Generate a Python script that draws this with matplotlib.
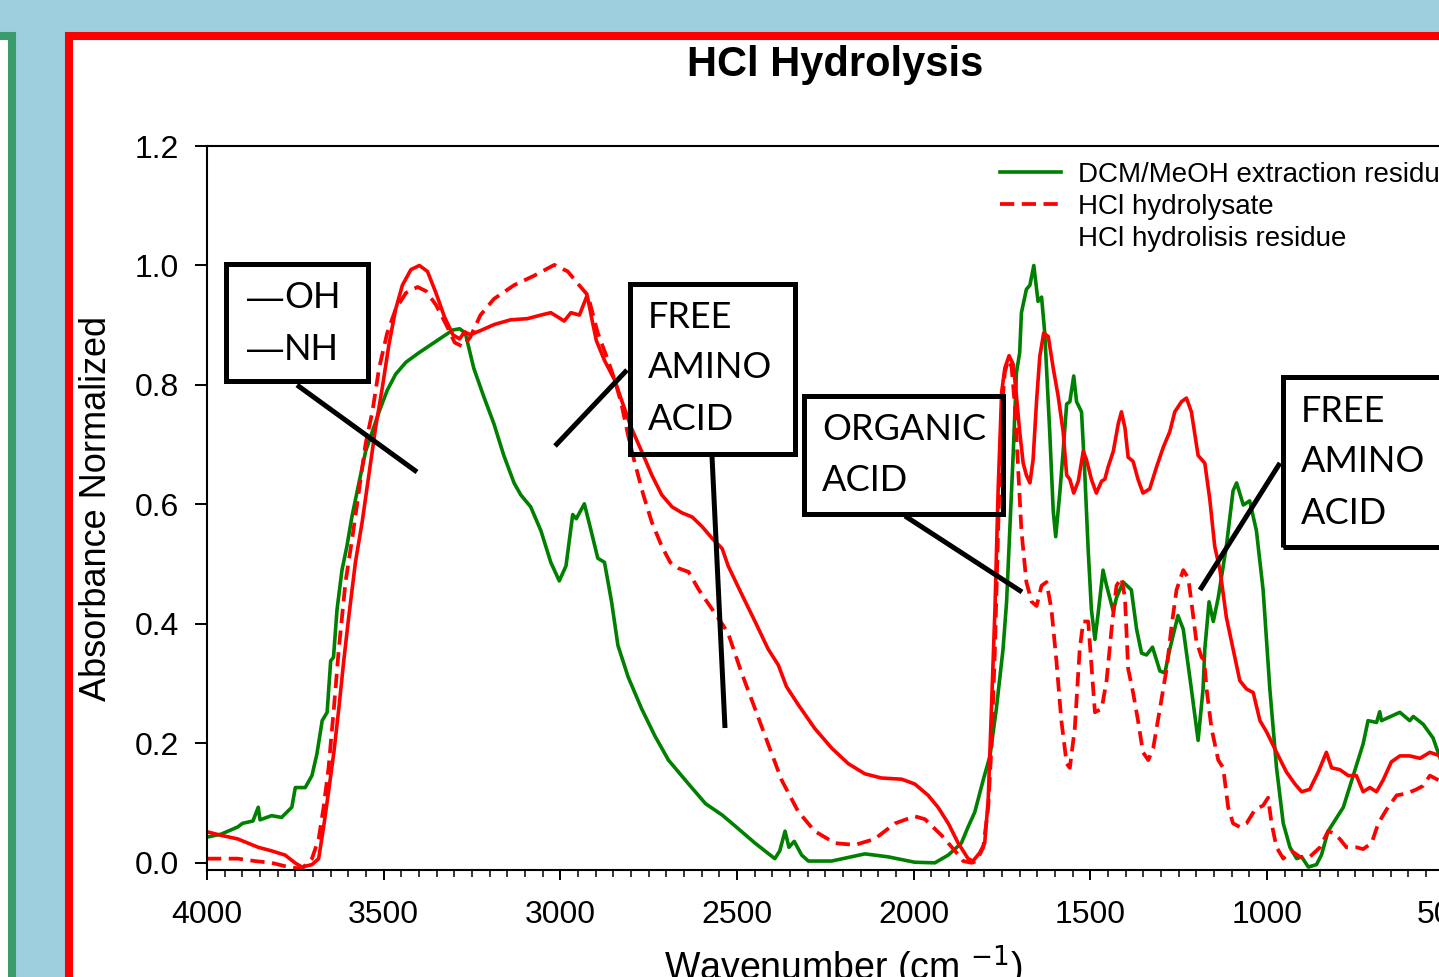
import matplotlib
matplotlib.use('Agg')
from matplotlib import pyplot as plt
import matplotlib.patches as patches
from matplotlib.lines import Line2D

plt.rcParams['font.family'] = ['Liberation Sans', 'DejaVu Sans']

# DCM/MeOH extraction residue (green solid)
dcm_wn = [4000, 3960, 3913, 3900, 3870, 3855, 3850, 3817, 3789, 3760, 3750, 3722, 3703, 3689,
          3674, 3660, 3650, 3642, 3632, 3618, 3604, 3590, 3570, 3551, 3532, 3513, 3490, 3466,
          3437, 3400, 3342, 3304, 3285, 3269, 3245, 3217, 3188, 3160, 3131, 3112, 3084, 3055,
          3027, 3003, 2984, 2965, 2955, 2932, 2913, 2894, 2875, 2855, 2837, 2808, 2770, 2732,
          2694, 2637, 2589, 2542, 2506, 2449, 2393, 2379, 2364, 2353, 2338, 2317, 2298, 2232,
          2138, 2072, 1997, 1940, 1902, 1865, 1846, 1827, 1803, 1784, 1766, 1747, 1737, 1728,
          1718, 1709, 1700, 1695, 1681, 1671, 1660, 1652, 1648, 1638, 1629, 1615, 1605, 1598,
          1586, 1577, 1567, 1558, 1547, 1539, 1525, 1516, 1506, 1497, 1487, 1478, 1464, 1454,
          1435, 1426, 1407, 1384, 1369, 1355, 1341, 1324, 1303, 1289, 1275, 1252, 1237, 1214,
          1195, 1181, 1176, 1164, 1152, 1138, 1115, 1096, 1086, 1067, 1049, 1030, 1011, 992,
          973, 954, 935, 916, 902, 883, 860, 846, 827, 813, 784, 756, 728, 714, 690, 681, 676,
          624, 596, 586, 558, 530, 510]
dcm_abs = [0.043, 0.048, 0.060, 0.066, 0.070, 0.093, 0.072, 0.079, 0.076, 0.093, 0.126, 0.126,
           0.146, 0.182, 0.238, 0.252, 0.338, 0.344, 0.424, 0.490, 0.530, 0.579, 0.636, 0.689,
           0.722, 0.755, 0.791, 0.818, 0.838, 0.854, 0.877, 0.892, 0.894, 0.887, 0.828, 0.781,
           0.735, 0.682, 0.636, 0.616, 0.596, 0.556, 0.503, 0.472, 0.497, 0.583, 0.576, 0.601,
           0.556, 0.510, 0.503, 0.437, 0.364, 0.311, 0.258, 0.212, 0.172, 0.132, 0.099, 0.080,
           0.062, 0.033, 0.007, 0.020, 0.053, 0.026, 0.036, 0.013, 0.003, 0.003, 0.015, 0.010,
           0.001, 0.000, 0.013, 0.033, 0.060, 0.085, 0.139, 0.179, 0.258, 0.358, 0.437, 0.556,
           0.689, 0.821, 0.854, 0.921, 0.960, 0.967, 1.000, 0.960, 0.940, 0.947, 0.887, 0.722,
           0.589, 0.546, 0.622, 0.689, 0.768, 0.772, 0.815, 0.772, 0.755, 0.656, 0.523, 0.424,
           0.374, 0.417, 0.490, 0.464, 0.421, 0.444, 0.470, 0.457, 0.391, 0.351, 0.348, 0.361,
           0.321, 0.318, 0.358, 0.414, 0.391, 0.291, 0.205, 0.291, 0.358, 0.437, 0.404, 0.444,
           0.530, 0.623, 0.636, 0.599, 0.606, 0.556, 0.457, 0.291, 0.159, 0.066, 0.026, 0.007,
           0.010, -0.007, -0.003, 0.013, 0.053, 0.066, 0.093, 0.146, 0.199, 0.238, 0.235, 0.253,
           0.238, 0.252, 0.238, 0.245, 0.232, 0.209, 0.175]

# HCl hydrolysate (red dashed)
hyd_wn = [4000, 3913, 3865, 3817, 3770, 3732, 3703, 3684, 3670, 3656, 3641, 3627, 3608, 3589,
          3570, 3551, 3532, 3513, 3490, 3466, 3437, 3404, 3380, 3352, 3323, 3299, 3276, 3255,
          3226, 3188, 3131, 3074, 3017, 2979, 2951, 2922, 2894, 2865, 2846, 2827, 2808, 2789,
          2765, 2741, 2713, 2689, 2665, 2637, 2608, 2570, 2542, 2525, 2487, 2449, 2412, 2374,
          2327, 2280, 2223, 2166, 2110, 2053, 1997, 1968, 1921, 1883, 1860, 1836, 1822, 1803,
          1789, 1780, 1770, 1761, 1751, 1742, 1733, 1723, 1714, 1704, 1695, 1681, 1666, 1652,
          1638, 1624, 1610, 1596, 1582, 1567, 1558, 1544, 1530, 1520, 1506, 1497, 1487, 1468,
          1454, 1440, 1426, 1412, 1402, 1393, 1379, 1365, 1351, 1336, 1322, 1303, 1284, 1270,
          1256, 1237, 1223, 1214, 1200, 1185, 1178, 1171, 1157, 1138, 1124, 1110, 1096, 1077,
          1058, 1034, 1011, 997, 987, 973, 954, 931, 907, 879, 850, 827, 813, 794, 775, 747,
          728, 704, 685, 662, 633, 605, 577, 558, 539, 510]
hyd_abs = [0.007, 0.007, 0.003, 0.000, -0.007, -0.010, 0.007, 0.040, 0.093, 0.159, 0.258, 0.358,
           0.470, 0.543, 0.623, 0.702, 0.755, 0.828, 0.887, 0.927, 0.954, 0.964, 0.957, 0.934,
           0.901, 0.871, 0.864, 0.880, 0.917, 0.944, 0.967, 0.983, 1.001, 0.990, 0.970, 0.950,
           0.887, 0.841, 0.808, 0.768, 0.715, 0.669, 0.616, 0.570, 0.530, 0.503, 0.493, 0.487,
           0.457, 0.424, 0.400, 0.384, 0.318, 0.258, 0.199, 0.139, 0.086, 0.053, 0.033, 0.030,
           0.040, 0.066, 0.078, 0.073, 0.046, 0.020, 0.003, 0.000, 0.003, 0.026, 0.093, 0.192,
           0.358, 0.556, 0.755, 0.821, 0.841, 0.831, 0.768, 0.656, 0.556, 0.470, 0.437, 0.430,
           0.464, 0.470, 0.424, 0.338, 0.238, 0.166, 0.159, 0.225, 0.358, 0.404, 0.404, 0.331,
           0.252, 0.258, 0.305, 0.391, 0.464, 0.477, 0.444, 0.325, 0.285, 0.238, 0.185, 0.172,
           0.192, 0.258, 0.325, 0.397, 0.457, 0.490, 0.477, 0.437, 0.371, 0.344, 0.340, 0.291,
           0.225, 0.172, 0.159, 0.093, 0.066, 0.060, 0.066, 0.089, 0.096, 0.109, 0.066, 0.026,
           0.007, 0.020, 0.010, 0.010, 0.026, 0.053, 0.050, 0.040, 0.026, 0.026, 0.023, 0.033,
           0.066, 0.089, 0.113, 0.116, 0.123, 0.129, 0.146, 0.137]

# HCl hydrolisis residue (red solid)
res_wn = [4000, 3960, 3913, 3884, 3855, 3817, 3779, 3751, 3732, 3703, 3684, 3670, 3656, 3641,
          3627, 3613, 3599, 3580, 3561, 3542, 3523, 3504, 3485, 3466, 3447, 3423, 3399, 3376,
          3352, 3328, 3304, 3285, 3271, 3255, 3226, 3188, 3141, 3093, 3055, 3027, 2989, 2970,
          2946, 2924, 2911, 2898, 2875, 2846, 2827, 2799, 2770, 2741, 2713, 2684, 2656, 2627,
          2599, 2570, 2542, 2525, 2487, 2449, 2412, 2383, 2360, 2327, 2280, 2232, 2185, 2138,
          2091, 2034, 1997, 1959, 1931, 1902, 1874, 1846, 1832, 1813, 1799, 1789, 1780, 1770,
          1761, 1751, 1742, 1730, 1718, 1709, 1700, 1690, 1681, 1671, 1662, 1652, 1643, 1632,
          1619, 1605, 1591, 1577, 1567, 1558, 1547, 1534, 1520, 1511, 1497, 1483, 1468, 1459,
          1450, 1435, 1421, 1412, 1402, 1393, 1379, 1365, 1351, 1332, 1313, 1294, 1275, 1261,
          1242, 1228, 1214, 1195, 1176, 1162, 1148, 1133, 1115, 1096, 1077, 1058, 1039, 1020,
          1001, 973, 945, 921, 902, 879, 855, 832, 817, 794, 770, 747, 728, 709, 690, 671, 648,
          624, 596, 567, 539, 510]
res_abs = [0.052, 0.046, 0.040, 0.033, 0.026, 0.020, 0.013, 0.000, -0.007, -0.003, 0.007, 0.060,
           0.119, 0.185, 0.258, 0.338, 0.411, 0.503, 0.570, 0.649, 0.728, 0.795, 0.868, 0.927,
           0.967, 0.993, 1.000, 0.990, 0.954, 0.914, 0.884, 0.877, 0.889, 0.884, 0.891, 0.901,
           0.909, 0.911, 0.917, 0.921, 0.907, 0.921, 0.917, 0.950, 0.911, 0.874, 0.841, 0.808,
           0.775, 0.728, 0.689, 0.649, 0.616, 0.596, 0.586, 0.579, 0.563, 0.543, 0.526, 0.497,
           0.450, 0.404, 0.358, 0.331, 0.295, 0.265, 0.225, 0.192, 0.166, 0.149, 0.142, 0.140,
           0.132, 0.113, 0.093, 0.066, 0.033, 0.007, 0.003, 0.017, 0.033, 0.106, 0.258, 0.424,
           0.623, 0.788, 0.828, 0.849, 0.834, 0.781, 0.722, 0.669, 0.649, 0.636, 0.675, 0.775,
           0.848, 0.887, 0.881, 0.828, 0.781, 0.722, 0.649, 0.642, 0.619, 0.639, 0.689, 0.675,
           0.642, 0.619, 0.639, 0.642, 0.662, 0.689, 0.735, 0.755, 0.728, 0.679, 0.672, 0.642,
           0.619, 0.626, 0.662, 0.695, 0.722, 0.755, 0.772, 0.778, 0.755, 0.682, 0.669, 0.609,
           0.530, 0.490, 0.411, 0.358, 0.305, 0.291, 0.285, 0.238, 0.219, 0.185, 0.152, 0.132,
           0.119, 0.123, 0.152, 0.185, 0.159, 0.156, 0.146, 0.146, 0.119, 0.126, 0.119, 0.139,
           0.169, 0.179, 0.179, 0.175, 0.185, 0.179]

series_labels = ['DCM/MeOH extraction residue', 'HCl hydrolysate', 'HCl hydrolisis residue']
x_ticks = [4000, 3500, 3000, 2500, 2000, 1500, 1000, 500]
y_ticks = [0.0, 0.2, 0.4, 0.6, 0.8, 1.0, 1.2]

# callout boxes: text lines, left x, row y, box (x0, y0, x1, y1) in pixels
callouts = [
    (['\u2014OH', '\u2014NH'], 247, [298, 349], (226.5, 263.5, 367.5, 380.5)),
    (['FREE', 'AMINO', 'ACID'], 648, [318, 368, 419], (629.5, 283.5, 794.5, 453.5)),
    (['ORGANIC', 'ACID'], 822, [430, 481], (803.5, 395.5, 1002.5, 513.5)),
    (['FREE', 'AMINO', 'ACID'], 1301, [411, 462, 513], (1282.5, 376.5, 1480, 546.5)),
]
leaders = [((297, 385), (417, 472)), ((627, 370), (555, 446)), ((712, 456), (725, 728)),
           ((905, 516), (1022, 592)), ((1280, 463), (1200, 590))]

W, H = 1439, 977


def fx(x):
    return x / W


def fy(y):
    return 1 - y / H


fig = plt.figure(figsize=(W / 100, H / 100), dpi=100)
fig.patch.set_facecolor('#9dcfdf')

# slide frames
fig.add_artist(patches.Rectangle((fx(-100), fy(1100)), 112 / W, (1100 - 36) / H, transform=fig.transFigure,
                                 facecolor='white', edgecolor='#3a9b6b', linewidth=5.8, zorder=-5))
fig.add_artist(patches.Rectangle((fx(69), fy(1100)), 1500 / W, (1100 - 36) / H, transform=fig.transFigure,
                                 facecolor='white', edgecolor='#ff0000', linewidth=5.8, zorder=-5))

ax = fig.add_axes([fx(207), fy(870), (1479 - 207) / W, (870 - 146) / H])
ax.set_facecolor('none')

l1, = ax.plot(dcm_wn, dcm_abs, color='#008000', lw=2.6, label=series_labels[0])
l2, = ax.plot(hyd_wn, hyd_abs, color='#ff0000', lw=2.7, dashes=(3.8, 2), label=series_labels[1])
l3, = ax.plot(res_wn, res_abs, color='#ff0000', lw=2.6, label=series_labels[2])

ax.set_xlim(4000, 400)
ax.set_ylim(-0.012, 1.2)
ax.set_xticks(x_ticks)
ax.set_xticks(list(range(4000, 399, -50)), minor=True)
ax.set_yticks(y_ticks)
ax.set_yticklabels(['%.1f' % v for v in y_ticks])
ax.tick_params(axis='both', labelsize=23, width=1.4, color='black')
ax.tick_params(axis='x', which='major', direction='out', length=7.5, pad=14)
ax.tick_params(axis='x', which='minor', direction='out', length=4.8, width=1.1)
ax.tick_params(axis='y', which='major', direction='out', length=9, pad=11)
for s in ax.spines.values():
    s.set_linewidth(1.5)

ax.set_ylabel('Absorbance Normalized', fontsize=26, va='center')
ax.yaxis.set_label_coords(-0.0865, 0.5)
ax.set_xlabel('Wavenumber (cm $^{-1}$)', fontsize=27, va='center')
ax.xaxis.set_label_coords(0.5, -0.134)

fig.text(fx(835), fy(65), 'HCl Hydrolysis', fontsize=30, fontweight='bold', ha='center', va='center')

ghost = Line2D([], [], color='none')
ax.legend([l1, l2, ghost], series_labels, loc='upper left', bbox_to_anchor=(fx(1000), fy(162)),
          bbox_transform=fig.transFigure, frameon=False, fontsize=20, handlelength=2.2,
          handletextpad=0.6, labelspacing=0.22, borderpad=0, borderaxespad=0)

# callouts
for lines, tx, rows, (x0, y0, x1, y1) in callouts:
    fig.add_artist(patches.Rectangle((fx(x0), fy(y1)), (x1 - x0) / W, (y1 - y0) / H,
                                     transform=fig.transFigure, facecolor='none',
                                     edgecolor='black', linewidth=3.6, zorder=5))
    for txt, ry in zip(lines, rows):
        if txt.startswith('\u2014'):
            # long dash in a font whose em dash is a full em wide
            fig.text(fx(tx), fy(ry + 1), '\u2014', fontsize=26, ha='left', va='center', zorder=6)
            fig.text(fx(tx + 37), fy(ry), txt[1:], fontsize=26, family=['Lato', 'DejaVu Sans'],
                     ha='left', va='center', zorder=6)
        else:
            fig.text(fx(tx), fy(ry), txt, fontsize=26, family=['Lato', 'DejaVu Sans'],
                     ha='left', va='center', zorder=6)
for (xa, ya), (xb, yb) in leaders:
    fig.add_artist(Line2D([fx(xa), fx(xb)], [fy(ya), fy(yb)], transform=fig.transFigure,
                          color='black', lw=3.6, solid_capstyle='butt', zorder=5))

fig.savefig('out.png', dpi=100, facecolor=fig.get_facecolor())
